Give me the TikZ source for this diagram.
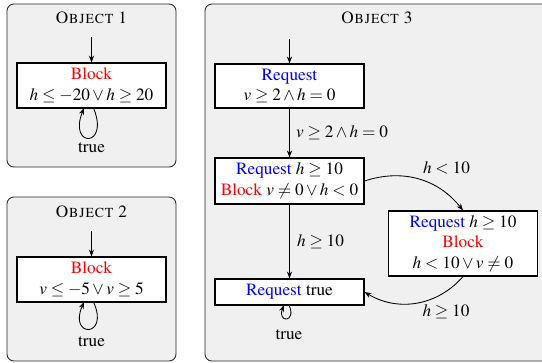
\documentclass[tikz,border=0pt]{standalone}
\usepackage[T1]{fontenc}
\usepackage{mathptmx}
\usetikzlibrary{arrows.meta}
\definecolor{reqblue}{RGB}{0,0,255}
\definecolor{blkred}{RGB}{255,0,0}
\begin{document}
\begin{tikzpicture}[x=0.58pt,y=-0.58pt,
  container/.style={draw=black!85, fill=black!6, rounded corners=4pt, line width=0.5pt},
  titletext/.style={inner sep=0pt},
  statebox/.style={draw=black, fill=white, line width=0.65pt, align=center, inner sep=1pt, minimum width=86.4pt},
  arr/.style={-{Stealth[length=4pt,width=3pt]}, line width=0.5pt},
  lbl/.style={inner sep=1pt},
]
\clip (0,0) rectangle (542,362);
\useasboundingbox (0,0) rectangle (542,362);

% containers
\draw[container] (7,4) rectangle (176,167);
\draw[container] (7,197) rectangle (176,361);
\draw[container] (205,4) rectangle (549,361);

\node[titletext] (t1) at (91.5,18) {\textsc{Object 1}};
\node[titletext] (t2) at (91.5,212) {\textsc{Object 2}};
\node[titletext] (t3) at (377,18) {\textsc{Object 3}};

% Object 1
\node[statebox, minimum height=26.1pt] (b1) at (91.5,85.5)
  {\textcolor{blkred}{Block}\\ $h\leq -20 \vee h\geq 20$};
\coordinate (s1) at (91.5,37);
\draw[arr] (s1) -- (b1.north);
\coordinate (l1a) at (93.5,108);
\coordinate (l1b) at (84,108);
\draw[arr] (l1a) .. controls (110,148) and (68,148) .. (l1b);
\node[lbl] (tr1) at (91.5,148) {true};

% Object 2
\node[statebox, minimum height=26.1pt] (b2) at (91.5,279.5)
  {\textcolor{blkred}{Block}\\ $v\leq -5 \vee v\geq 5$};
\coordinate (s2) at (91.5,231);
\draw[arr] (s2) -- (b2.north);
\coordinate (l2a) at (93.5,302);
\coordinate (l2b) at (84,302);
\draw[arr] (l2a) .. controls (110,338) and (68,338) .. (l2b);
\node[lbl] (tr2) at (91.5,342) {true};

% Object 3
\node[statebox, minimum height=25.5pt] (r1) at (289.5,86)
  {\textcolor{reqblue}{Request}\\ $v\geq 2 \wedge h=0$};
\node[statebox, minimum height=26.7pt] (r2) at (289.5,181)
  {\textcolor{reqblue}{Request} $h\geq 10$\\ \textcolor{blkred}{Block} $v\neq 0 \vee h<0$};
\node[statebox, minimum height=15.1pt] (r4) at (289.5,292)
  {\textcolor{reqblue}{Request} true};
\node[statebox, minimum height=37.7pt] (r3) at (463,243.5)
  {\textcolor{reqblue}{Request} $h\geq 10$\\ \textcolor{blkred}{Block}\\ $h<10 \vee v\neq 0$};

\coordinate (s3) at (289.5,39);
\draw[arr] (s3) -- (r1.north);
\draw[arr] (r1.south) -- (r2.north);
\draw[arr] (r2.south) -- (r4.north);
\draw[arr] (r2.east) to[bend left=35] (r3.north);
\draw[arr] (r3.south) to[bend left=40] (r4.east);

\coordinate (l3a) at (289,305);
\coordinate (l3b) at (284,305);
\draw[arr] (l3a) .. controls (297,323) and (277,323) .. (l3b);
\node[lbl] (tr3) at (289,335) {true};

\node[lbl, anchor=west] (e1) at (294,133) {$v\geq 2 \wedge h=0$};
\node[lbl, anchor=west] (e2) at (295,242) {$h\geq 10$};
\node[lbl] (e3) at (446.5,168) {$h<10$};
\node[lbl] (e4) at (446,312) {$h\geq 10$};
\end{tikzpicture}
\end{document}
